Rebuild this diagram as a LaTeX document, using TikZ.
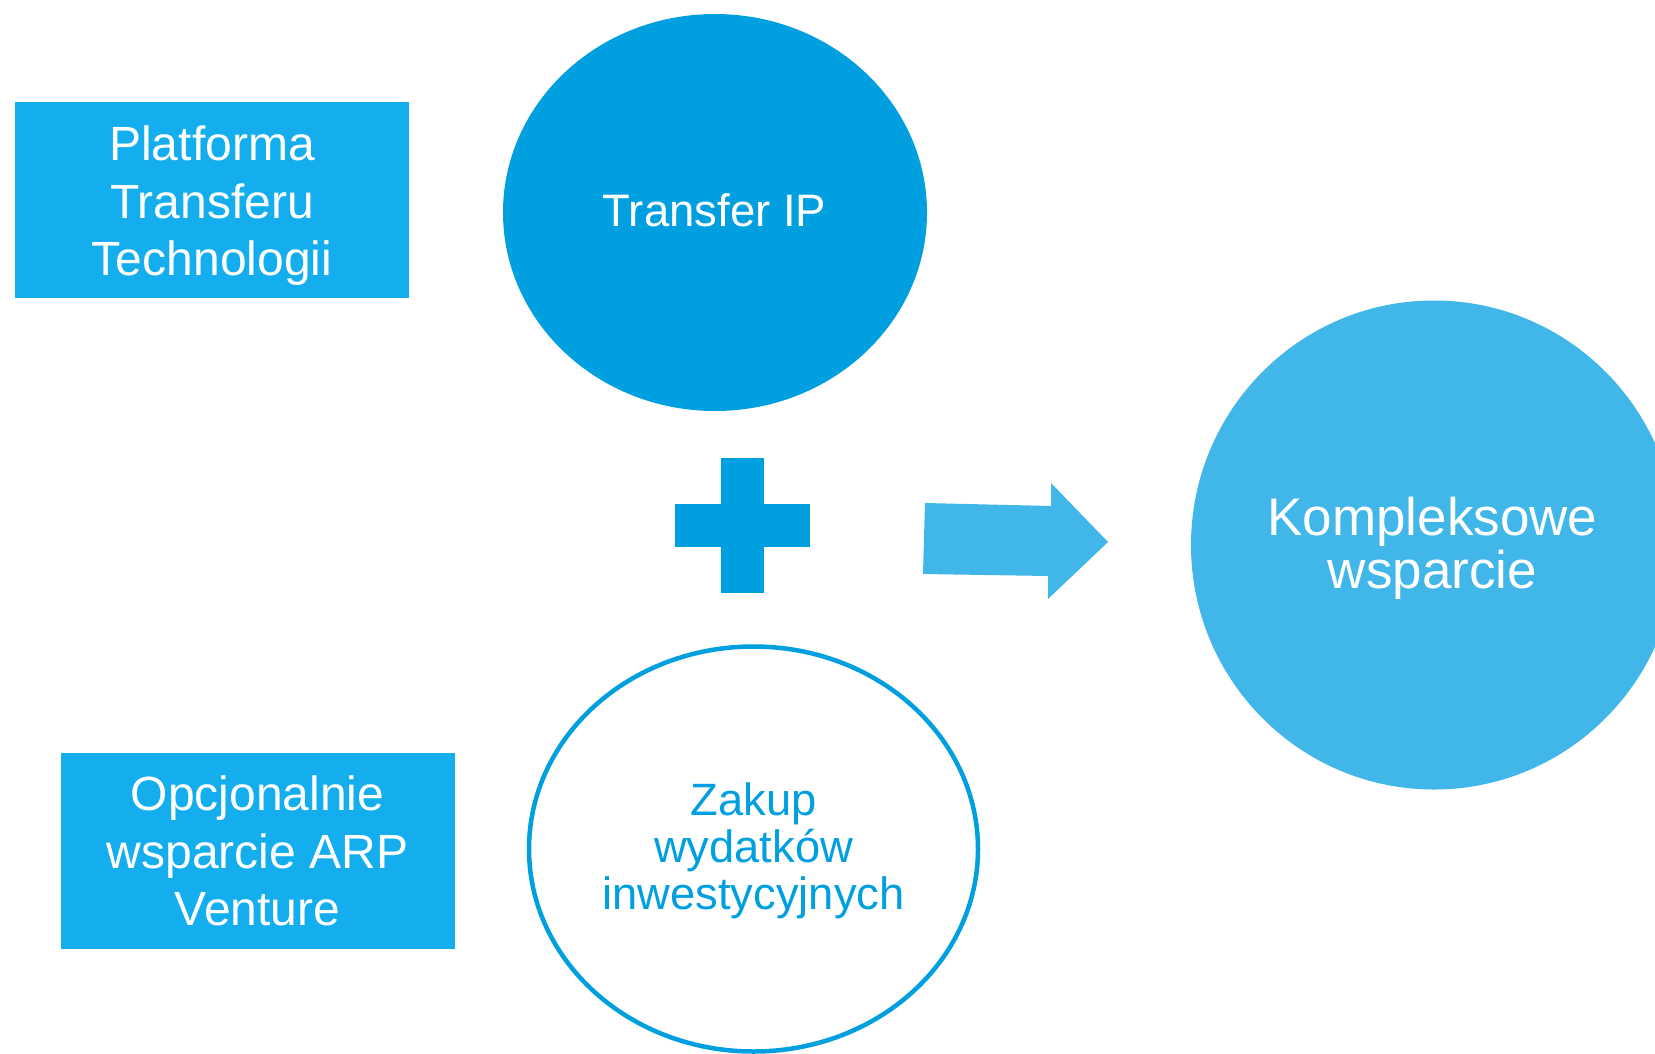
\documentclass[tikz,border=0pt]{standalone}
\usepackage{fontspec}
\setmainfont{Liberation Sans}
\usetikzlibrary{shapes.geometric}
\definecolor{boxblue}{HTML}{14AEEF}
\definecolor{darkblue}{HTML}{009FE0}
\definecolor{lightblue}{HTML}{41B6E8}
\tikzset{
  infobox/.style={rectangle, fill=boxblue, draw=none, inner sep=0pt},
  boxtext/.style={text=white, align=center, inner sep=0pt, font=\fontsize{48}{57.5}\selectfont},
  filledcircle/.style={ellipse, draw=none, inner sep=0pt},
  ringcircle/.style={ellipse, draw=darkblue, line width=4.5pt, fill=white, inner sep=0pt},
}
\begin{document}
\begin{tikzpicture}[x=1pt,y=-1pt]
\useasboundingbox (0,0) rectangle (1655,1053);
\clip (0,0) rectangle (1655,1053);
\fill[white] (0,0) rectangle (1655,1053);

% boxes
\node[infobox, minimum width=393.5pt, minimum height=196pt] (box1) at (211.75,200) {};
\node[boxtext] (box1text) at (212,206) {Platforma\\Transferu\\Technologii};

\node[infobox, minimum width=394pt, minimum height=196pt] (box2) at (258,850.5) {};
\node[boxtext] (box2text) at (257.5,851) {Opcjonalnie\\wsparcie ARP\\Venture};

% top circle
\node[filledcircle, fill=darkblue, minimum width=424pt, minimum height=397pt] (ip) at (715,212.5) {};
\node[text=white, inner sep=0pt, font=\fontsize{45.5}{52}\selectfont] (iptext) at (714.5,210) {Transfer IP};

% bottom ring
\node[ringcircle, minimum width=449pt, minimum height=405pt] (zakup) at (753.5,849) {};
\node[text=darkblue, align=center, inner sep=0pt, font=\fontsize{45.3}{47}\selectfont] (zakuptext) at (753.5,851) {Zakup\\wydatków\\inwestycyjnych};

% right circle
\node[filledcircle, fill=lightblue, minimum width=486pt, minimum height=489pt] (komp) at (1434,545) {};
\node[text=white, align=center, inner sep=0pt, font=\fontsize{53}{53}\selectfont] (komptext) at (1432.5,548.5) {Kompleksowe\\wsparcie};

% plus sign
\fill[darkblue] (721,458) rectangle (764,593);
\fill[darkblue] (675,504) rectangle (810,547);

% block arrow
\coordinate (a1) at (925,503);
\coordinate (a2) at (1051,506);
\coordinate (a3) at (1051,483);
\coordinate (a4) at (1108,542);
\coordinate (a5) at (1048,599);
\coordinate (a6) at (1048,576);
\coordinate (a7) at (923,574);
\fill[lightblue] (a1) -- (a2) -- (a3) -- (a4) -- (a5) -- (a6) -- (a7) -- cycle;
\end{tikzpicture}
\end{document}
